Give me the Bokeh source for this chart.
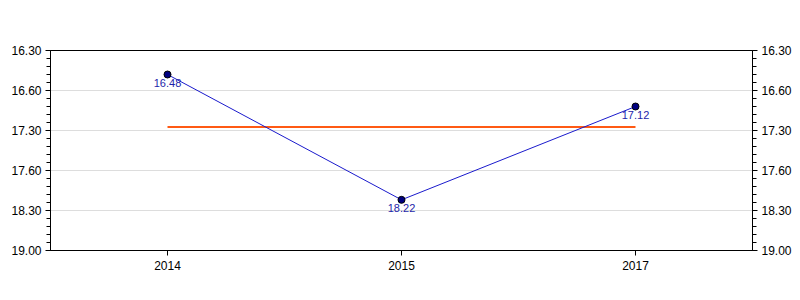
from bokeh.plotting import figure
from bokeh.models import Range1d, FactorRange, FixedTicker, LinearAxis, ColumnDataSource
from bokeh.core.properties import value
from bokeh.embed import file_html
from bokeh.resources import INLINE

# Data (times as mm.ss, stored in seconds)
years = ["2014", "2015", "2017"]
times_sec = [1008, 1102, 1032]
time_labels = ["16.48", "18.22", "17.12"]
y_ticks = [990, 1020, 1050, 1080, 1110, 1140]
y_tick_labels = ["16.30", "16.60", "17.30", "17.60", "18.30", "19.00"]

mean_val = sum(times_sec) / len(times_sec)

p = figure(width=800, height=300, x_range=FactorRange(*years),
           y_range=Range1d(1140, 990), output_backend="svg", toolbar_location=None,
           min_border_left=50, min_border_right=48, min_border_top=50, min_border_bottom=50)
p.outline_line_color = "black"
p.background_fill_color = "white"
p.border_fill_color = "white"

src = ColumnDataSource(dict(x=years, y=times_sec, lab=time_labels))

p.line(x=years, y=[mean_val] * len(years), line_color="#ff5a14", line_width=2)
p.line("x", "y", source=src, line_color="#1a1acc", line_width=1)
p.scatter("x", "y", source=src, size=7, fill_color="#000080", line_color="black", line_width=1)
p.text("x", "y", text="lab", source=src, text_align="center", text_baseline="top",
       y_offset=4, text_font=value("Liberation Sans"), text_font_size="11px", text_color="#1e1eaa")

ticker = FixedTicker(ticks=y_ticks, minor_ticks=list(range(990, 1141, 6)))
overrides = {t: l for t, l in zip(y_ticks, y_tick_labels)}

def style_y(ax):
    ax.ticker = ticker
    ax.major_label_overrides = overrides
    ax.axis_line_color = "black"
    ax.major_tick_line_color = "black"
    ax.minor_tick_line_color = "black"
    ax.major_tick_out = 5
    ax.major_tick_in = 0
    ax.minor_tick_out = 4
    ax.minor_tick_in = 0
    ax.major_label_text_font = "Liberation Sans"
    ax.major_label_text_font_size = "12px"
    ax.major_label_text_color = "black"
    ax.major_label_standoff = 4

style_y(p.yaxis[0])
ra = LinearAxis()
style_y(ra)
p.add_layout(ra, "right")

xa = p.xaxis[0]
xa.axis_line_color = "black"
xa.major_tick_line_color = "black"
xa.major_tick_out = 5
xa.major_tick_in = 0
xa.minor_tick_line_color = None
xa.major_label_text_font = "Liberation Sans"
xa.major_label_text_font_size = "12px"
xa.major_label_text_color = "black"
xa.major_label_standoff = 5
xa.group_text_font_size = "0px"

p.xgrid.grid_line_color = None
p.ygrid.ticker = FixedTicker(ticks=y_ticks)
p.ygrid.grid_line_color = "#dddddd"
p.ygrid.grid_line_width = 1

open("out.html", "w").write(file_html(p, INLINE))
